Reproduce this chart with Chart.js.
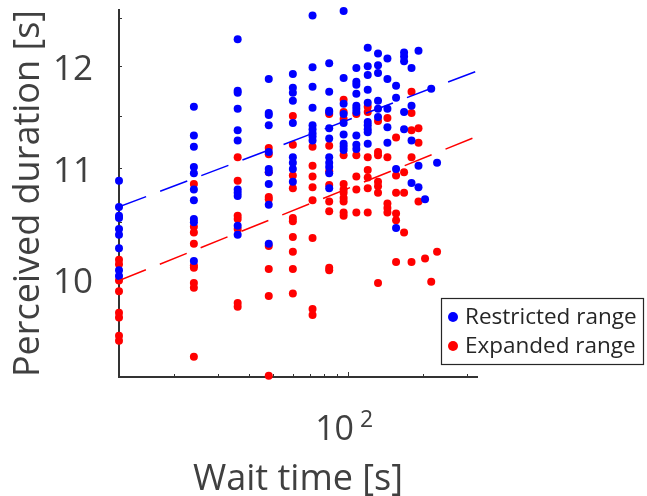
<!DOCTYPE html>
<html>
<head>
<meta charset="utf-8">
<script src="https://cdn.jsdelivr.net/npm/chart.js@4/dist/chart.umd.min.js"></script>
<style>
  html, body { margin: 0; padding: 0; background: #fff; }
  #chart { display: block; }
</style>
</head>
<body>
<canvas id="chart" width="647" height="496"></canvas>
<script>
// wait times (s), one column of dots per value
const waitTimes = [12, 24, 36, 48, 60, 72, 84, 96, 108, 120, 132, 144, 156, 168, 180, 192, 204, 216, 228];

// perceived durations per wait time column
const restrictedY = [
  [10.88, 10.64, 10.56, 10.54, 10.44, 10.39, 10.27, 10.08, 10.03],
  [11.59, 11.31, 11.20, 11.01, 10.95, 10.80, 10.70, 10.53, 10.50, 10.16],
  [12.28, 11.75, 11.73, 11.57, 11.36, 11.26, 10.80, 10.77, 10.74, 10.47, 10.39],
  [11.87, 11.53, 11.51, 11.41, 11.15, 10.99, 10.96, 10.85, 10.66, 10.31],
  [11.92, 11.78, 11.73, 11.65, 11.43, 11.10, 11.05, 10.99, 10.87],
  [12.53, 11.99, 11.79, 11.58, 11.41, 11.37, 11.33, 11.30, 11.26],
  [12.03, 11.74, 11.55, 11.54, 11.38, 11.28, 11.10, 11.05, 11.01, 10.95, 10.81],
  [12.58, 11.88, 11.62, 11.52, 11.43, 11.32, 11.23, 11.20, 11.17],
  [11.98, 11.84, 11.81, 11.72, 11.60, 11.57, 11.54, 11.31, 11.22, 11.18],
  [12.19, 12.00, 11.91, 11.76, 11.63, 11.44, 11.41, 11.37, 11.34, 11.23],
  [12.13, 12.01, 11.93, 11.65, 11.57, 11.49],
  [12.08, 11.87, 11.57, 11.39, 11.24],
  [11.80, 11.68, 10.99, 10.45],
  [12.14, 12.10, 12.05, 11.54, 11.37],
  [11.98, 11.60, 11.26, 10.86],
  [12.16, 11.02, 10.82],
  [10.71],
  [11.77],
  [11.05]
];

const expandedY = [
  [10.17, 10.13, 9.99, 9.90, 9.72, 9.68, 9.53, 9.49],
  [10.85, 10.46, 10.41, 10.31, 10.12, 10.10, 9.97, 9.93, 9.36],
  [11.10, 10.88, 10.56, 10.53, 10.44, 9.80, 9.77],
  [11.19, 11.13, 10.96, 10.73, 10.71, 10.29, 10.09, 9.86, 9.21],
  [11.50, 11.22, 10.93, 10.81, 10.54, 10.51, 10.37, 10.24, 10.09, 9.88],
  [11.20, 11.02, 10.92, 10.82, 10.70, 10.36, 9.75, 9.70],
  [11.52, 11.21, 10.97, 10.84, 10.69, 10.60, 10.10, 10.08],
  [11.66, 11.54, 11.47, 11.12, 10.85, 10.80, 10.77, 10.72, 10.69, 10.59, 10.56],
  [11.52, 11.12, 10.92, 10.80, 10.59],
  [11.59, 11.54, 11.10, 10.98, 10.91, 10.81, 10.59],
  [11.45, 11.15, 11.12, 10.87, 10.83, 10.77, 9.97],
  [11.48, 11.10, 10.67, 10.63, 10.59],
  [11.29, 10.93, 10.77, 10.58, 10.52, 10.15],
  [10.96, 10.77, 10.41],
  [11.74, 11.53, 11.36, 11.10, 10.15],
  [11.38, 11.24, 10.69],
  [10.18],
  [9.98],
  [10.24]
];

// fitted lines (end points at the axis limits)
const fitX = [12, 330];
const restrictedFitY = [10.64, 11.95];
const expandedFitY = [9.99, 11.30];

// axis ticks
const xTicks = [20, 30, 40, 50, 60, 70, 80, 90, 100, 200, 300];
const yTicks = [9.5, 10, 10.5, 11, 11.5, 12, 12.5];
const yTickLabels = [10, 11, 12];

const seriesNames = ['Restricted range', 'Expanded range'];

const textColor = '#404040';
const axisColor = '#333333';
const fontFamily = "'Open Sans', 'Noto Sans', sans-serif";

const toPoints = cols => waitTimes.flatMap((x, i) => cols[i].map(y => ({ x, y })));
const toLine = ys => fitX.map((x, i) => ({ x, y: ys[i] }));

// ticks drawn inside the axes, like matlab
const insideTicks = {
  id: 'insideTicks',
  beforeDatasetsDraw(chart) {
    const { ctx, chartArea, scales } = chart;
    ctx.save();
    ctx.strokeStyle = axisColor;
    ctx.lineWidth = 1;
    scales.x.ticks.forEach(t => {
      const px = Math.round(scales.x.getPixelForValue(t.value)) + 0.5;
      const len = t.value === 100 ? 5 : 3;
      ctx.beginPath();
      ctx.moveTo(px, chartArea.bottom);
      ctx.lineTo(px, chartArea.bottom - len);
      ctx.stroke();
    });
    scales.y.ticks.forEach(t => {
      const py = Math.round(scales.y.getPixelForValue(t.value)) + 0.5;
      ctx.beginPath();
      ctx.moveTo(chartArea.left, py);
      ctx.lineTo(chartArea.left + 3, py);
      ctx.stroke();
    });
    ctx.restore();
  }
};

// "10^2" label under the x axis
const powerLabel = {
  id: 'powerLabel',
  afterDraw(chart) {
    const { ctx, scales } = chart;
    const px = scales.x.getPixelForValue(100);
    ctx.save();
    ctx.fillStyle = textColor;
    ctx.textBaseline = 'alphabetic';
    ctx.font = `34px ${fontFamily}`;
    ctx.textAlign = 'right';
    ctx.fillText('10', px + 6, 440);
    ctx.font = `23px ${fontFamily}`;
    ctx.textAlign = 'left';
    ctx.fillText('2', px + 12, 427);
    ctx.restore();
  }
};

// boxed legend in the lower right corner
const boxLegend = {
  id: 'boxLegend',
  afterDraw(chart) {
    const { ctx } = chart;
    const items = chart.data.datasets.filter(d => seriesNames.includes(d.label));
    ctx.save();
    ctx.fillStyle = '#fff';
    ctx.fillRect(441.5, 298.5, 202, 66);
    ctx.strokeStyle = '#262626';
    ctx.lineWidth = 1.2;
    ctx.strokeRect(441.5, 298.5, 202, 66);
    ctx.font = `22.5px ${fontFamily}`;
    ctx.textBaseline = 'middle';
    ctx.textAlign = 'left';
    items.forEach((d, i) => {
      const y = 317 + i * 29;
      ctx.fillStyle = d.backgroundColor;
      ctx.beginPath();
      ctx.arc(453, y, 5, 0, Math.PI * 2);
      ctx.fill();
      ctx.fillStyle = '#262626';
      ctx.fillText(d.label, 465, y + 1);
    });
    ctx.restore();
  }
};

new Chart(document.getElementById('chart'), {
  type: 'scatter',
  data: {
    datasets: [
      {
        label: 'fit restricted',
        data: toLine(restrictedFitY),
        showLine: true,
        borderColor: '#0000ff',
        borderWidth: 1.5,
        borderDash: [29, 15],
        pointRadius: 0,
        order: 0
      },
      {
        label: 'fit expanded',
        data: toLine(expandedFitY),
        showLine: true,
        borderColor: '#ff0000',
        borderWidth: 1.5,
        borderDash: [29, 15],
        pointRadius: 0,
        order: 0
      },
      {
        label: seriesNames[0],
        data: toPoints(restrictedY),
        backgroundColor: '#0000ff',
        borderWidth: 0,
        pointRadius: 4,
        clip: false,
        order: 1
      },
      {
        label: seriesNames[1],
        data: toPoints(expandedY),
        backgroundColor: '#ff0000',
        borderWidth: 0,
        pointRadius: 4,
        clip: false,
        order: 2
      }
    ]
  },
  options: {
    responsive: false,
    animation: false,
    devicePixelRatio: 1,
    layout: { padding: { top: 10, right: 170, left: 0, bottom: 0 } },
    plugins: {
      legend: { display: false },
      tooltip: { enabled: false }
    },
    scales: {
      x: {
        type: 'logarithmic',
        min: 12,
        max: 330,
        afterBuildTicks: axis => { axis.ticks = xTicks.map(v => ({ value: v })); },
        afterFit: axis => {
          axis.height = 119;
          axis.paddingLeft = 0;
          axis.paddingRight = 0;
        },
        grid: { display: false },
        border: { display: true, color: axisColor, width: 2 },
        ticks: { display: false },
        title: {
          display: true,
          text: 'Wait time [s]',
          color: textColor,
          font: { family: fontFamily, size: 36 },
          padding: { top: 0, bottom: -5 }
        }
      },
      y: {
        type: 'logarithmic',
        min: 9.21,
        max: 12.59,
        afterBuildTicks: axis => { axis.ticks = yTicks.map(v => ({ value: v })); },
        afterFit: axis => {
          axis.width = 119;
          axis.paddingTop = 0;
          axis.paddingBottom = 0;
        },
        grid: { display: false },
        border: { display: true, color: axisColor, width: 2 },
        ticks: {
          autoSkip: false,
          padding: 18,
          labelOffset: 4,
          color: textColor,
          font: { family: fontFamily, size: 35 },
          callback: v => yTickLabels.includes(v) ? String(v) : ''
        },
        title: {
          display: true,
          text: 'Perceived duration [s]',
          color: textColor,
          font: { family: fontFamily, size: 36 },
          padding: { top: 7, bottom: 0 }
        }
      }
    }
  },
  plugins: [insideTicks, powerLabel, boxLegend]
});
</script>
</body>
</html>
